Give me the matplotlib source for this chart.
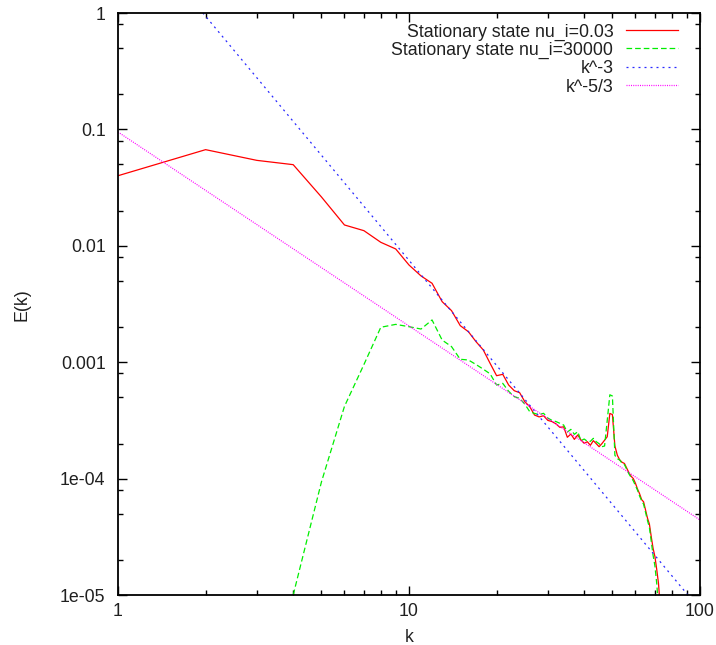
import numpy as np
import matplotlib
matplotlib.use("Agg")
import matplotlib.pyplot as plt
from matplotlib.lines import Line2D
from matplotlib.ticker import FixedLocator, NullFormatter

plt.rcParams['font.family'] = ['Liberation Sans', 'DejaVu Sans']

# Energy spectrum, viscosity nu_i = 0.03 (log10 of E(k), k = 1..73)
k_low = np.arange(1, 74)
logE_low = [
    -1.398, -1.174, -1.266, -1.303, -1.580, -1.821, -1.870, -1.970, -2.027, -2.165,
    -2.259, -2.322, -2.480, -2.557, -2.686, -2.738, -2.824, -2.895, -3.010, -3.116,
    -3.104, -3.196, -3.245, -3.262, -3.339, -3.382, -3.454, -3.470, -3.460, -3.500,
    -3.510, -3.530, -3.560, -3.555, -3.645, -3.617, -3.663, -3.625, -3.668, -3.697,
    -3.683, -3.714, -3.674, -3.700, -3.726, -3.700, -3.670, -3.640, -3.440, -3.450,
    -3.720, -3.800, -3.840, -3.860, -3.870, -3.910, -3.950, -3.980, -4.000, -4.040,
    -4.090, -4.130, -4.180, -4.200, -4.270, -4.340, -4.390, -4.500, -4.600, -4.670,
    -4.780, -4.900, -5.100,
]

# Energy spectrum, viscosity nu_i = 30000 (log10 of E(k), k = 4..72)
k_high = np.arange(4, 73)
logE_high = [
    -5.000, -4.030, -3.380, -3.020, -2.700, -2.675, -2.695, -2.715, -2.637, -2.810,
    -2.866, -2.975, -2.981, -3.020, -3.060, -3.100, -3.196, -3.182, -3.250, -3.296,
    -3.310, -3.360, -3.425, -3.440, -3.450, -3.439, -3.480, -3.500, -3.510, -3.525,
    -3.540, -3.600, -3.577, -3.620, -3.597, -3.674, -3.660, -3.680, -3.680, -3.654,
    -3.683, -3.700, -3.726, -3.720, -3.500, -3.280, -3.290, -3.800, -3.830, -3.840,
    -3.870, -3.880, -3.920, -3.960, -3.990, -4.020, -4.060, -4.100, -4.150, -4.190,
    -4.220, -4.290, -4.360, -4.420, -4.540, -4.660, -4.750, -4.900, -5.100,
]

# Reference power laws
amp_k3 = 7.5
amp_k53 = 0.095
k_ref = np.array([1.0, 100.0])

labels = [
    "Stationary state nu_i=0.03",
    "Stationary state nu_i=30000",
    "k^-3",
    "k^-5/3",
]

W, H = 716, 645
FS = 12.8
fig = plt.figure(figsize=(W / 100, H / 100), dpi=100)
ax = fig.add_axes([118 / W, 50 / H, 582 / W, 582 / H])

styles = [
    dict(color='#ff0000', lw=0.9),
    dict(color='#00ee00', lw=0.9, dashes=(4.5, 2.4)),
    dict(color='#2a2aff', lw=0.9, dashes=(1.6, 3.2)),
    dict(color='#ff00ff', lw=0.9, dashes=(0.8, 1.0)),
]

ax.plot(k_low, 10.0 ** np.array(logE_low), **styles[0])
ax.plot(k_high, 10.0 ** np.array(logE_high), **styles[1])
ax.plot(k_ref, amp_k3 * k_ref ** -3.0, **styles[2])
ax.plot(k_ref, amp_k53 * k_ref ** (-5.0 / 3.0), **styles[3])

ax.set_xscale('log')
ax.set_yscale('log')
ax.set_xlim(1, 100)
ax.set_ylim(1e-5, 1)

xmaj = [1, 10, 100]
xmin = [m * 10 ** e for e in range(0, 2) for m in range(2, 10)]
ymaj = [1e-5, 1e-4, 1e-3, 1e-2, 1e-1, 1]
ymaj_labels = ["1e-05", "1e-04", "0.001", "0.01", "0.1", "1"]
ymin = [m * 10.0 ** e for e in range(-5, 0) for m in (2, 5, 8)]

ax.xaxis.set_major_locator(FixedLocator(xmaj))
ax.xaxis.set_minor_locator(FixedLocator(xmin))
ax.set_xticklabels(["1", "10", "100"])
ax.xaxis.set_minor_formatter(NullFormatter())
ax.yaxis.set_major_locator(FixedLocator(ymaj))
ax.yaxis.set_minor_locator(FixedLocator(ymin))
ax.set_yticklabels(ymaj_labels)
ax.yaxis.set_minor_formatter(NullFormatter())

ax.tick_params(which='both', direction='in', top=True, right=True,
               labelsize=FS, width=1.0, colors='black', labelcolor='#202020')
ax.tick_params(which='major', length=6.5)
ax.tick_params(which='minor', length=3.6)
ax.tick_params(axis='x', which='major', pad=6)
ax.tick_params(axis='y', which='major', pad=9)
for s in ax.spines.values():
    s.set_linewidth(1.3)

# Axis titles
fig.text(409 / W, 1 - 642 / H, "k", fontsize=FS, ha='center', va='baseline',
         color='#202020')
fig.text(21.7 / W, 1 - 305 / H, "E(k)", fontsize=FS, ha='center', va='center',
         rotation=90, color='#202020')

# Key: right-aligned titles with line samples on their right
text_right = 613.3
line_x = (625.7, 677.7)
row_y = [30.0, 48.3, 66.7, 85.0]
for lab, st, y in zip(labels, styles, row_y):
    fig.text(text_right / W, 1 - y / H, lab, fontsize=FS, ha='right',
             va='center_baseline', color='#202020')
    fig.add_artist(Line2D([line_x[0] / W, line_x[1] / W],
                          [1 - y / H, 1 - y / H], **st))

fig.savefig("out.png", dpi=100)
